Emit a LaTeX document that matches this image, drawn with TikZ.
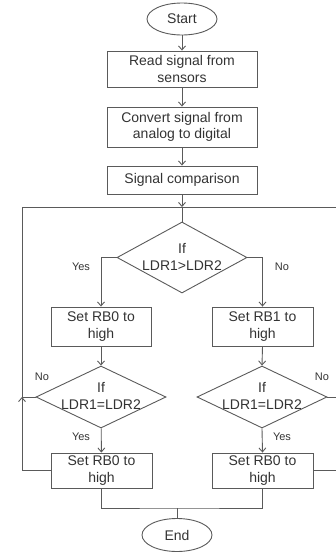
\documentclass[tikz,border=0pt]{standalone}
\usepackage{fontspec}
\setmainfont{Liberation Sans}
\usetikzlibrary{shapes.geometric,arrows.meta}
\definecolor{ln}{HTML}{5A5A5A}
\definecolor{tx}{HTML}{333333}
\begin{document}
\begin{tikzpicture}[x=1pt,y=-1pt,
  line/.style={draw=ln, line width=0.9pt},
  box/.style={rectangle, draw=ln, line width=0.9pt, inner sep=0pt, align=center,
    font=\fontsize{14}{16.7}\selectfont, text=tx},
  term/.style={ellipse, draw=ln, line width=0.9pt, inner sep=0pt,
    minimum width=70pt, font=\fontsize{14}{16.7}\selectfont, text=tx},
  dec/.style={diamond, draw=ln, line width=0.9pt, inner sep=0pt, minimum width=130pt},
  txt/.style={align=center, inner sep=0pt, font=\fontsize{14}{17.3}\selectfont, text=tx},
  lbl/.style={inner sep=0pt, font=\fontsize{11}{13}\selectfont, text=tx},
  arr/.style={line, -{Straight Barb[length=4pt,width=7pt]}}
]
\useasboundingbox (0,0) rectangle (336,552);

\node[term, minimum height=32pt] (start) at (182,19) {Start};
\node[box, minimum width=150pt, minimum height=36pt] (read) at (182,69) {Read signal from\\sensors};
\node[box, minimum width=150pt, minimum height=40pt] (conv) at (182,127) {Convert signal from\\analog to digital};
\node[box, minimum width=150pt, minimum height=28pt] (comp) at (182,180) {Signal comparison};

\coordinate (J) at (182,207);
\node[dec, minimum height=71pt] (d1) at (182,257.5) {};
\node[txt] (d1t) at (182,257) {If\\LDR1>LDR2};

\node[box, minimum width=100pt, minimum height=39pt] (rb0) at (101,326.5) {Set RB0 to\\high};
\node[box, minimum width=101pt, minimum height=39pt] (rb1) at (262.5,326.5) {Set RB1 to\\high};

\node[dec, minimum height=62pt] (d2l) at (101,397) {};
\node[txt] (d2lt) at (101,396) {If\\LDR1=LDR2};
\node[dec, minimum height=62pt] (d2r) at (262,397) {};
\node[txt] (d2rt) at (262,396) {If\\LDR1=LDR2};

\node[box, minimum width=101pt, minimum height=35pt] (b0l) at (101.5,470.5) {Set RB0 to\\high};
\node[box, minimum width=101pt, minimum height=35pt] (b0r) at (262.5,470.5) {Set RB0 to\\high};

\node[term, minimum height=33pt] (end) at (177,535) {End};

% labels
\node[lbl] (y1) at (81,267) {Yes};
\node[lbl] (n1) at (282,267) {No};
\node[lbl] (n2) at (42,377) {No};
\node[lbl] (n3) at (322,377) {No};
\node[lbl] (y2) at (81,437) {Yes};
\node[lbl] (y3) at (282,437) {Yes};

% connectors
\draw[arr] (start) -- (read);
\draw[arr] (read) -- (conv);
\draw[arr] (conv) -- (comp);
\draw[arr] (comp) -- (J);
\draw[line] (J) -- (d1.north);
\draw[arr] (d1.west) -| (rb0.north);
\draw[arr] (d1.east) -| (rb1.north);
\draw[arr] (rb0) -- (d2l.north);
\draw[arr] (rb1.south) -- (d2r.north);
\draw[arr] (d2l) -- (b0l);
\draw[arr] (d2r.south) -- (b0r.north);

\coordinate (Lj) at (22,397);
\draw[arr] (b0l.west) -| (Lj);
\draw[line] (Lj) |- (J);
\draw[line] (d2l.west) -- (Lj);

\coordinate (R1) at (336,207);
\coordinate (R2) at (336,397);
\coordinate (R3) at (336,470.5);
\draw[line] (R1) -- (J);
\draw[line] (d2r.east) -- (R2);
\draw[line] (b0r.east) -- (R3);

\coordinate (M) at (177,508);
\draw[line] (b0l.south) |- (M) -| (b0r.south);
\draw[line] (M) -- (end.north);
\end{tikzpicture}
\end{document}
